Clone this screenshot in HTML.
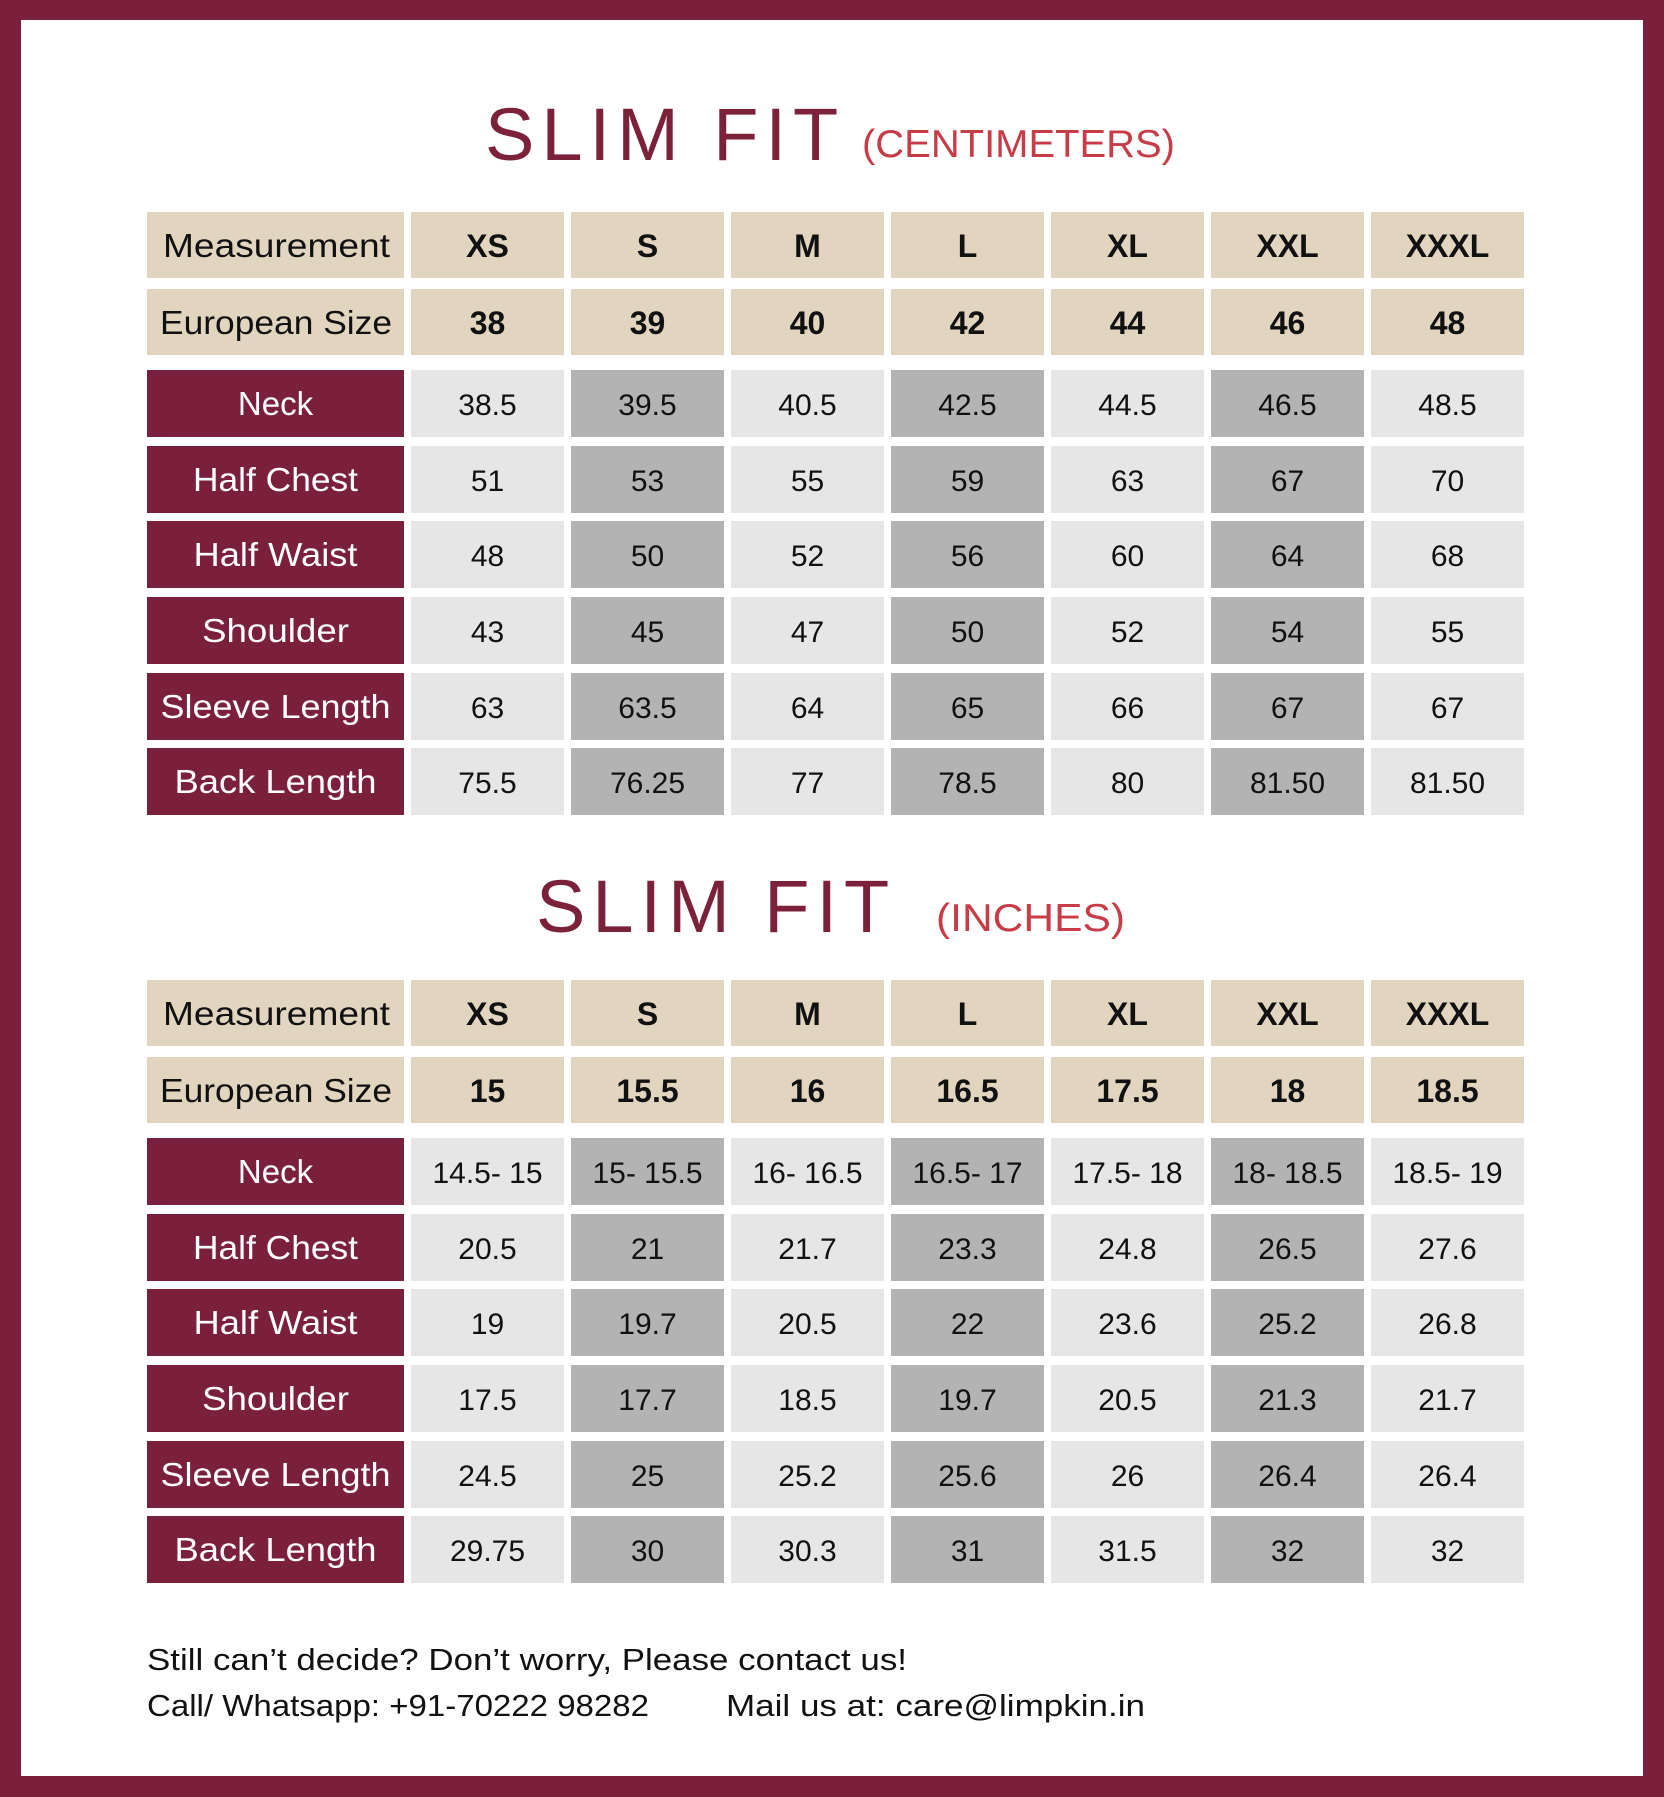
<!DOCTYPE html>
<html><head><meta charset="utf-8"><style>
html,body{margin:0;padding:0;background:#fff}
svg{display:block}
text{font-family:"Liberation Sans",sans-serif}
.h{font-size:33px;fill:#111}
.hb{font-size:32px;font-weight:bold;fill:#111;text-anchor:middle}
.l{font-size:33px;fill:#fff;text-anchor:middle}
.d{font-size:30px;fill:#111;text-anchor:middle}
.ft{font-size:31px;fill:#111}
</style></head><body>
<svg width="1664" height="1797" viewBox="0 0 1664 1797" xmlns="http://www.w3.org/2000/svg">
<rect x="0" y="0" width="1664" height="1797" fill="#7a203c"/>
<rect x="21" y="20" width="1622" height="1756" fill="#fff"/>

<text x="485" y="160" font-size="74" fill="#7b2139" letter-spacing="7">SLIM FIT</text>
<text x="862" y="157" font-size="39" fill="#c83c48" textLength="313" lengthAdjust="spacingAndGlyphs">(CENTIMETERS)</text>
<text x="536" y="932" font-size="74" fill="#7b2139" letter-spacing="7">SLIM FIT</text>
<text x="936" y="931" font-size="39" fill="#c83c48" textLength="189" lengthAdjust="spacingAndGlyphs">(INCHES)</text>

<g>
<g fill="#e2d5c0">
<rect x="147" y="212" width="257" height="66"/><rect x="411" y="212" width="153" height="66"/><rect x="571" y="212" width="153" height="66"/><rect x="731" y="212" width="153" height="66"/><rect x="891" y="212" width="153" height="66"/><rect x="1051" y="212" width="153" height="66"/><rect x="1211" y="212" width="153" height="66"/><rect x="1371" y="212" width="153" height="66"/>
<rect x="147" y="289" width="257" height="66"/><rect x="411" y="289" width="153" height="66"/><rect x="571" y="289" width="153" height="66"/><rect x="731" y="289" width="153" height="66"/><rect x="891" y="289" width="153" height="66"/><rect x="1051" y="289" width="153" height="66"/><rect x="1211" y="289" width="153" height="66"/><rect x="1371" y="289" width="153" height="66"/>
</g>
<g fill="#7a203c">
<rect x="147" y="370" width="257" height="67"/><rect x="147" y="446" width="257" height="67"/><rect x="147" y="521" width="257" height="67"/><rect x="147" y="597" width="257" height="67"/><rect x="147" y="673" width="257" height="67"/><rect x="147" y="748" width="257" height="67"/>
</g>
<g fill="#e6e6e6">
<rect x="411" y="370" width="153" height="445"/><rect x="731" y="370" width="153" height="445"/><rect x="1051" y="370" width="153" height="445"/><rect x="1371" y="370" width="153" height="445"/>
</g>
<g fill="#b3b3b3">
<rect x="571" y="370" width="153" height="445"/><rect x="891" y="370" width="153" height="445"/><rect x="1211" y="370" width="153" height="445"/>
</g>
<g fill="#fff">
<rect x="400" y="437" width="1130" height="9"/><rect x="400" y="513" width="1130" height="8"/><rect x="400" y="588" width="1130" height="9"/><rect x="400" y="664" width="1130" height="9"/><rect x="400" y="740" width="1130" height="8"/>
</g>
</g>

<g transform="translate(0,768)">
<g fill="#e2d5c0">
<rect x="147" y="212" width="257" height="66"/><rect x="411" y="212" width="153" height="66"/><rect x="571" y="212" width="153" height="66"/><rect x="731" y="212" width="153" height="66"/><rect x="891" y="212" width="153" height="66"/><rect x="1051" y="212" width="153" height="66"/><rect x="1211" y="212" width="153" height="66"/><rect x="1371" y="212" width="153" height="66"/>
<rect x="147" y="289" width="257" height="66"/><rect x="411" y="289" width="153" height="66"/><rect x="571" y="289" width="153" height="66"/><rect x="731" y="289" width="153" height="66"/><rect x="891" y="289" width="153" height="66"/><rect x="1051" y="289" width="153" height="66"/><rect x="1211" y="289" width="153" height="66"/><rect x="1371" y="289" width="153" height="66"/>
</g>
<g fill="#7a203c">
<rect x="147" y="370" width="257" height="67"/><rect x="147" y="446" width="257" height="67"/><rect x="147" y="521" width="257" height="67"/><rect x="147" y="597" width="257" height="67"/><rect x="147" y="673" width="257" height="67"/><rect x="147" y="748" width="257" height="67"/>
</g>
<g fill="#e6e6e6">
<rect x="411" y="370" width="153" height="445"/><rect x="731" y="370" width="153" height="445"/><rect x="1051" y="370" width="153" height="445"/><rect x="1371" y="370" width="153" height="445"/>
</g>
<g fill="#b3b3b3">
<rect x="571" y="370" width="153" height="445"/><rect x="891" y="370" width="153" height="445"/><rect x="1211" y="370" width="153" height="445"/>
</g>
<g fill="#fff">
<rect x="400" y="437" width="1130" height="9"/><rect x="400" y="513" width="1130" height="8"/><rect x="400" y="588" width="1130" height="9"/><rect x="400" y="664" width="1130" height="9"/><rect x="400" y="740" width="1130" height="8"/>
</g>
</g>

<!-- Table 1 text -->
<text class="h" x="163" y="257" textLength="227" lengthAdjust="spacingAndGlyphs">Measurement</text>
<text class="h" x="160" y="334" textLength="232" lengthAdjust="spacingAndGlyphs">European Size</text>
<g class="hb">
<text x="487.5" y="257">XS</text><text x="647.5" y="257">S</text><text x="807.5" y="257">M</text><text x="967.5" y="257">L</text><text x="1127.5" y="257">XL</text><text x="1287.5" y="257">XXL</text><text x="1447.5" y="257">XXXL</text>
<text x="487.5" y="334">38</text><text x="647.5" y="334">39</text><text x="807.5" y="334">40</text><text x="967.5" y="334">42</text><text x="1127.5" y="334">44</text><text x="1287.5" y="334">46</text><text x="1447.5" y="334">48</text>
</g>
<g class="l">
<text x="275.5" y="415">Neck</text>
<text x="275.5" y="491" textLength="165" lengthAdjust="spacingAndGlyphs">Half Chest</text>
<text x="275.5" y="566" textLength="164" lengthAdjust="spacingAndGlyphs">Half Waist</text>
<text x="275.5" y="642" textLength="147" lengthAdjust="spacingAndGlyphs">Shoulder</text>
<text x="275.5" y="718" textLength="230" lengthAdjust="spacingAndGlyphs">Sleeve Length</text>
<text x="275.5" y="793" textLength="202" lengthAdjust="spacingAndGlyphs">Back Length</text>
</g>
<g class="d">
<text x="487.5" y="415">38.5</text><text x="647.5" y="415">39.5</text><text x="807.5" y="415">40.5</text><text x="967.5" y="415">42.5</text><text x="1127.5" y="415">44.5</text><text x="1287.5" y="415">46.5</text><text x="1447.5" y="415">48.5</text>
<text x="487.5" y="491">51</text><text x="647.5" y="491">53</text><text x="807.5" y="491">55</text><text x="967.5" y="491">59</text><text x="1127.5" y="491">63</text><text x="1287.5" y="491">67</text><text x="1447.5" y="491">70</text>
<text x="487.5" y="566">48</text><text x="647.5" y="566">50</text><text x="807.5" y="566">52</text><text x="967.5" y="566">56</text><text x="1127.5" y="566">60</text><text x="1287.5" y="566">64</text><text x="1447.5" y="566">68</text>
<text x="487.5" y="642">43</text><text x="647.5" y="642">45</text><text x="807.5" y="642">47</text><text x="967.5" y="642">50</text><text x="1127.5" y="642">52</text><text x="1287.5" y="642">54</text><text x="1447.5" y="642">55</text>
<text x="487.5" y="718">63</text><text x="647.5" y="718">63.5</text><text x="807.5" y="718">64</text><text x="967.5" y="718">65</text><text x="1127.5" y="718">66</text><text x="1287.5" y="718">67</text><text x="1447.5" y="718">67</text>
<text x="487.5" y="793">75.5</text><text x="647.5" y="793">76.25</text><text x="807.5" y="793">77</text><text x="967.5" y="793">78.5</text><text x="1127.5" y="793">80</text><text x="1287.5" y="793">81.50</text><text x="1447.5" y="793">81.50</text>
</g>

<!-- Table 2 text -->
<text class="h" x="163" y="1025" textLength="227" lengthAdjust="spacingAndGlyphs">Measurement</text>
<text class="h" x="160" y="1102" textLength="232" lengthAdjust="spacingAndGlyphs">European Size</text>
<g class="hb">
<text x="487.5" y="1025">XS</text><text x="647.5" y="1025">S</text><text x="807.5" y="1025">M</text><text x="967.5" y="1025">L</text><text x="1127.5" y="1025">XL</text><text x="1287.5" y="1025">XXL</text><text x="1447.5" y="1025">XXXL</text>
<text x="487.5" y="1102">15</text><text x="647.5" y="1102">15.5</text><text x="807.5" y="1102">16</text><text x="967.5" y="1102">16.5</text><text x="1127.5" y="1102">17.5</text><text x="1287.5" y="1102">18</text><text x="1447.5" y="1102">18.5</text>
</g>
<g class="l">
<text x="275.5" y="1183">Neck</text>
<text x="275.5" y="1259" textLength="165" lengthAdjust="spacingAndGlyphs">Half Chest</text>
<text x="275.5" y="1334" textLength="164" lengthAdjust="spacingAndGlyphs">Half Waist</text>
<text x="275.5" y="1410" textLength="147" lengthAdjust="spacingAndGlyphs">Shoulder</text>
<text x="275.5" y="1486" textLength="230" lengthAdjust="spacingAndGlyphs">Sleeve Length</text>
<text x="275.5" y="1561" textLength="202" lengthAdjust="spacingAndGlyphs">Back Length</text>
</g>
<g class="d">
<text x="487.5" y="1183">14.5- 15</text><text x="647.5" y="1183">15- 15.5</text><text x="807.5" y="1183">16- 16.5</text><text x="967.5" y="1183">16.5- 17</text><text x="1127.5" y="1183">17.5- 18</text><text x="1287.5" y="1183">18- 18.5</text><text x="1447.5" y="1183">18.5- 19</text>
<text x="487.5" y="1259">20.5</text><text x="647.5" y="1259">21</text><text x="807.5" y="1259">21.7</text><text x="967.5" y="1259">23.3</text><text x="1127.5" y="1259">24.8</text><text x="1287.5" y="1259">26.5</text><text x="1447.5" y="1259">27.6</text>
<text x="487.5" y="1334">19</text><text x="647.5" y="1334">19.7</text><text x="807.5" y="1334">20.5</text><text x="967.5" y="1334">22</text><text x="1127.5" y="1334">23.6</text><text x="1287.5" y="1334">25.2</text><text x="1447.5" y="1334">26.8</text>
<text x="487.5" y="1410">17.5</text><text x="647.5" y="1410">17.7</text><text x="807.5" y="1410">18.5</text><text x="967.5" y="1410">19.7</text><text x="1127.5" y="1410">20.5</text><text x="1287.5" y="1410">21.3</text><text x="1447.5" y="1410">21.7</text>
<text x="487.5" y="1486">24.5</text><text x="647.5" y="1486">25</text><text x="807.5" y="1486">25.2</text><text x="967.5" y="1486">25.6</text><text x="1127.5" y="1486">26</text><text x="1287.5" y="1486">26.4</text><text x="1447.5" y="1486">26.4</text>
<text x="487.5" y="1561">29.75</text><text x="647.5" y="1561">30</text><text x="807.5" y="1561">30.3</text><text x="967.5" y="1561">31</text><text x="1127.5" y="1561">31.5</text><text x="1287.5" y="1561">32</text><text x="1447.5" y="1561">32</text>
</g>

<text class="ft" x="147" y="1670" textLength="760" lengthAdjust="spacingAndGlyphs">Still can’t decide? Don’t worry, Please contact us!</text>
<text class="ft" x="147" y="1716" textLength="502" lengthAdjust="spacingAndGlyphs">Call/ Whatsapp: +91-70222 98282</text>
<text class="ft" x="726" y="1716" textLength="419" lengthAdjust="spacingAndGlyphs">Mail us at: care@limpkin.in</text>
</svg>
</body></html>
